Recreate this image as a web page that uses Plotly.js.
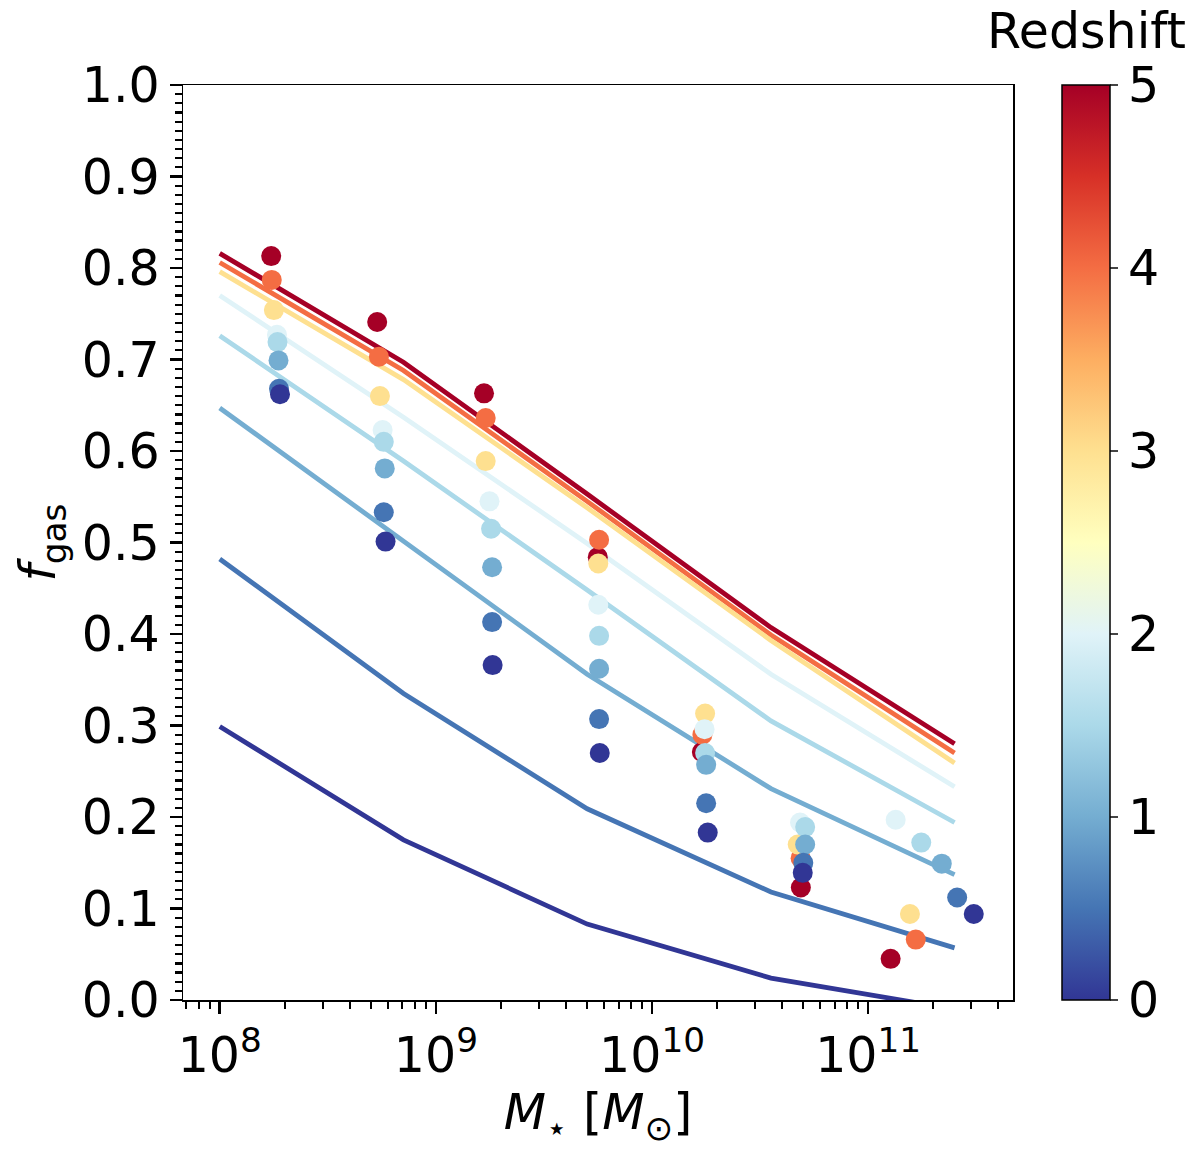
<!DOCTYPE html>
<html>
<head>
<meta charset="utf-8">
<script src="https://cdn.plot.ly/plotly-3.0.1.min.js"></script>
<style>
  body { margin: 0; background: #fff; }
  #chart { width: 1200px; height: 1151px; }
</style>
</head>
<body>
<div id="chart"></div>
<script>
// redshifts, drawn from high to low so z=0 ends up on top
var redshifts = [5, 4, 3, 2, 1.5, 1, 0.5, 0];

// model curves, sampled at these stellar masses
var lineMass = [1e8, 7.08e8, 5.01e9, 3.55e10, 2.51e11];
var lineZ5   = [0.816, 0.697, 0.553, 0.407, 0.280];
var lineZ4   = [0.806, 0.688, 0.545, 0.399, 0.270];
var lineZ3   = [0.796, 0.678, 0.538, 0.393, 0.259];
var lineZ2   = [0.770, 0.637, 0.499, 0.356, 0.233];
var lineZ1p5 = [0.726, 0.589, 0.448, 0.305, 0.194];
var lineZ1   = [0.647, 0.502, 0.356, 0.231, 0.137];
var lineZ0p5 = [0.482, 0.335, 0.209, 0.118, 0.057];
var lineZ0   = [0.299, 0.175, 0.083, 0.024, -0.010];

// binned simulation points (mass, fgas) per redshift
var massZ5   = [1.73e8, 5.35e8, 1.67e9, 5.61e9, 1.70e10, 4.88e10, 1.27e11];
var fgasZ5   = [0.813, 0.741, 0.663, 0.484, 0.271, 0.123, 0.045];
var massZ4   = [1.74e8, 5.45e8, 1.70e9, 5.69e9, 1.71e10, 4.87e10, 1.66e11];
var fgasZ4   = [0.787, 0.703, 0.636, 0.503, 0.290, 0.155, 0.066];
var massZ3   = [1.78e8, 5.51e8, 1.70e9, 5.64e9, 1.76e10, 4.72e10, 1.56e11];
var fgasZ3   = [0.754, 0.660, 0.589, 0.477, 0.313, 0.170, 0.094];
var massZ2   = [1.84e8, 5.67e8, 1.77e9, 5.64e9, 1.75e10, 4.84e10, 1.34e11];
var fgasZ2   = [0.727, 0.623, 0.545, 0.432, 0.296, 0.194, 0.197];
var massZ1p5 = [1.85e8, 5.74e8, 1.80e9, 5.69e9, 1.76e10, 5.11e10, 1.76e11];
var fgasZ1p5 = [0.719, 0.610, 0.515, 0.398, 0.270, 0.189, 0.172];
var massZ1   = [1.87e8, 5.80e8, 1.82e9, 5.69e9, 1.78e10, 5.11e10, 2.19e11];
var fgasZ1   = [0.699, 0.581, 0.473, 0.362, 0.257, 0.170, 0.149];
var massZ0p5 = [1.88e8, 5.74e8, 1.82e9, 5.69e9, 1.78e10, 5.01e10, 2.58e11];
var fgasZ0p5 = [0.668, 0.533, 0.413, 0.307, 0.215, 0.150, 0.112];
var massZ0   = [1.90e8, 5.85e8, 1.83e9, 5.73e9, 1.81e10, 4.98e10, 3.08e11];
var fgasZ0   = [0.662, 0.501, 0.366, 0.270, 0.183, 0.139, 0.094];

var lineSets = [lineZ5, lineZ4, lineZ3, lineZ2, lineZ1p5, lineZ1, lineZ0p5, lineZ0];
var massSets = [massZ5, massZ4, massZ3, massZ2, massZ1p5, massZ1, massZ0p5, massZ0];
var fgasSets = [fgasZ5, fgasZ4, fgasZ3, fgasZ2, fgasZ1p5, fgasZ1, fgasZ0p5, fgasZ0];

var xTickVals = [1e8, 1e9, 1e10, 1e11];
var xTickText = ['10<sup>8</sup>', '10<sup>9</sup>', '10<sup>10</sup>', '10<sup>11</sup>'];
var cbTickVals = [0, 1, 2, 3, 4, 5];

// matplotlib RdYlBu_r
var rdylbu_r = [
  [0.0, '#313695'], [0.1, '#4575b4'], [0.2, '#74add1'], [0.3, '#abd9e9'],
  [0.4, '#e0f3f8'], [0.5, '#ffffbf'], [0.6, '#fee090'], [0.7, '#fdae61'],
  [0.8, '#f46d43'], [0.9, '#d73027'], [1.0, '#a50026']
];
var zMin = 0, zMax = 5;

function hex2rgb(h) {
  return [parseInt(h.substr(1, 2), 16), parseInt(h.substr(3, 2), 16), parseInt(h.substr(5, 2), 16)];
}
function zColor(z) {
  var t = (z - zMin) / (zMax - zMin);
  for (var i = 1; i < rdylbu_r.length; i++) {
    if (t <= rdylbu_r[i][0]) {
      var a = rdylbu_r[i - 1], b = rdylbu_r[i];
      var f = (t - a[0]) / (b[0] - a[0]);
      var ca = hex2rgb(a[1]), cb = hex2rgb(b[1]);
      return 'rgb(' + ca.map(function (v, k) { return Math.round(v + f * (cb[k] - v)); }).join(',') + ')';
    }
  }
  return rdylbu_r[rdylbu_r.length - 1][1];
}

var FS = 49;
var data = [];

for (var i = 0; i < redshifts.length; i++) {
  data.push({
    type: 'scatter',
    mode: 'lines',
    x: lineMass,
    y: lineSets[i],
    line: {color: zColor(redshifts[i]), width: 4.8},
    hoverinfo: 'skip',
    showlegend: false
  });
}

// all points in one trace so one colorbar, high z drawn first
var px = [], py = [], pc = [];
for (var j = 0; j < redshifts.length; j++) {
  for (var k = 0; k < massSets[j].length; k++) {
    px.push(massSets[j][k]);
    py.push(fgasSets[j][k]);
    pc.push(redshifts[j]);
  }
}

data.push({
  type: 'scatter',
  mode: 'markers',
  x: px,
  y: py,
  showlegend: false,
  marker: {
    size: 20,
    color: pc,
    colorscale: rdylbu_r,
    cmin: zMin,
    cmax: zMax,
    line: {width: 0},
    showscale: true,
    colorbar: {
      x: 1.059,
      xanchor: 'left',
      y: 0.5,
      yanchor: 'middle',
      len: 1,
      thickness: 48,
      xpad: 0,
      ypad: 0,
      outlinewidth: 1.5,
      outlinecolor: '#000',
      ticks: 'outside',
      ticklen: 8,
      tickwidth: 1.5,
      tickmode: 'array',
      tickvals: cbTickVals,
      tickfont: {size: FS, color: '#000'}
    }
  }
});

// minor log ticks 2..9 per decade
var minorX = [];
for (var d = 7; d <= 11; d++) {
  for (var m = 2; m <= 9; m++) minorX.push(m * Math.pow(10, d));
}

var layout = {
  width: 1200,
  height: 1151,
  margin: {l: 183, r: 187, t: 85, b: 151},
  paper_bgcolor: '#fff',
  plot_bgcolor: '#fff',
  font: {family: 'DejaVu Sans', color: '#000', size: FS},
  xaxis: {
    type: 'log',
    range: [7.83, 11.67],
    tickmode: 'array',
    tickvals: xTickVals,
    ticktext: xTickText,
    ticks: 'outside',
    ticklen: 12,
    tickwidth: 2.5,
    tickcolor: '#000',
    minor: {tickmode: 'array', tickvals: minorX, ticks: 'outside', ticklen: 7, tickwidth: 2, tickcolor: '#000'},
    showgrid: false,
    zeroline: false,
    showline: true,
    linecolor: '#000',
    linewidth: 1.5,
    mirror: true,
    tickfont: {size: FS},
    title: {text: '<i>M</i><sub>⋆</sub> [<i>M</i><sub>⊙</sub>]', font: {size: FS}, standoff: 8}
  },
  yaxis: {
    range: [0, 1],
    tickmode: 'linear',
    tick0: 0,
    dtick: 0.1,
    tickformat: '.1f',
    ticks: 'outside',
    ticklen: 12,
    tickwidth: 2.5,
    tickcolor: '#000',
    minor: {dtick: 0.01, ticks: 'outside', ticklen: 7, tickwidth: 2.2, tickcolor: '#000'},
    showgrid: false,
    zeroline: false,
    showline: true,
    linecolor: '#000',
    linewidth: 1.5,
    mirror: true,
    tickfont: {size: FS},
    title: {text: '<i>f</i><sub>gas</sub>', font: {size: FS}, standoff: 10}
  },
  annotations: [{
    text: 'Redshift',
    xref: 'paper', yref: 'paper',
    x: 1.089, y: 1.059,
    xanchor: 'center', yanchor: 'middle',
    showarrow: false,
    font: {size: FS, color: '#000'}
  }]
};

Plotly.newPlot('chart', data, layout, {displayModeBar: false, staticPlot: true});
</script>
</body>
</html>
